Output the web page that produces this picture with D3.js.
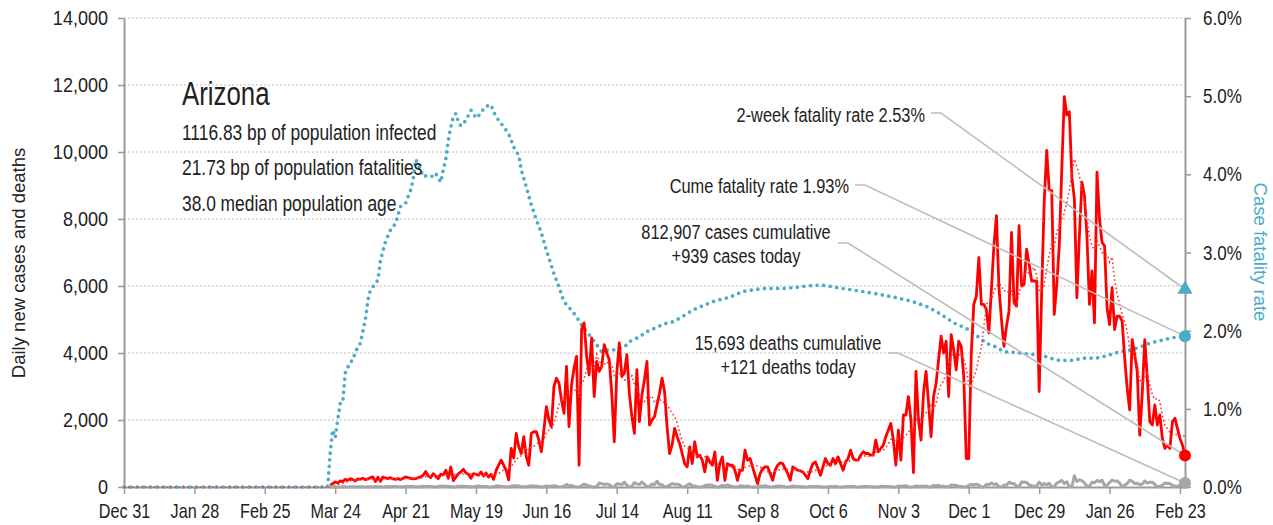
<!DOCTYPE html>
<html>
<head>
<meta charset="UTF-8">
<title>Arizona</title>
<script src="https://d3js.org/d3.v7.min.js"></script>
<style>
	body { margin: 0; background: #fff; }
	svg text { font-family: "Liberation Sans", Arial, sans-serif; fill: #222; }
</style>
</head>
<body>
<svg id="chart" width="1273" height="525"></svg>
<script type="text/javascript">
	// daily values, one per day starting at casesStart
	var casesStart = "2020-03-22";
	var dailyCases = [
		60, 100, 150, 120, 180, 160, 230,
		200, 250, 220, 180, 240, 230, 260,
		220, 240, 280, 300, 160, 290, 170,
		300, 270, 250, 280, 240, 230, 250,
		220, 260, 300, 280, 260, 240, 250,
		280, 300, 350, 460, 330, 280, 400,
		320, 250, 380, 360, 500, 260, 600,
		190, 300, 400, 450, 530, 420, 380,
		260, 400, 380, 350, 450, 330, 420,
		300, 380, 230, 500, 650, 800, 650,
		500, 210, 1150, 860, 1600, 1200, 1000,
		1500, 900, 650, 1600, 1650, 1650, 1400,
		1050, 1700, 2400, 2000, 1800, 3000, 3250,
		3100, 2600, 2200, 3600, 1800, 3050, 3550,
		3900, 650, 4700, 4900, 3900, 3350, 4450,
		2700, 3750, 3450, 3600, 4250, 4000, 3800,
		2800, 1350, 3400, 4300, 3300, 3400, 3950,
		2800, 2100, 1600, 3500, 1950, 2750, 3200,
		3750, 1850, 2000, 2100, 2450, 2800, 3250,
		2850, 1800, 1000, 1250, 1750, 1500, 1300,
		1000, 700, 600, 1200, 700, 1350, 900,
		950, 800, 450, 900, 750, 650, 1050,
		200, 700, 900, 200, 700, 650, 650,
		500, 200, 500, 500, 1100, 800, 850,
		600, 350, 100, 400, 550, 600, 600,
		400, 200, 500, 650, 720, 700, 550,
		400, 200, 600, 550, 500, 480, 450,
		350, 250, 500, 700, 750, 550, 350,
		600, 850, 700, 650, 850, 700, 900,
		700, 500, 750, 850, 1100, 850, 800,
		800, 950, 1050, 1000, 1000, 950, 950,
		1400, 1050, 1150, 1250, 1500, 1700, 1900,
		1400, 650, 1700, 800, 2150, 2150, 2700,
		2000, 430, 3450, 2000, 1400, 2800, 3450,
		2500, 1500, 2700, 3100, 3800, 4500, 4000,
		4350, 2700, 4550, 4100, 3500, 4350, 4200,
		3300, 850, 850, 4000, 5450, 5700, 6850,
		5450, 5450, 5300, 4600, 5900, 7200, 8100,
		5950, 5000, 4200, 4800, 5250, 7600, 5500,
		5400, 7800, 6000, 6050, 7100, 6650, 6150,
		6150, 6150, 2850, 5850, 8500, 10050, 8850,
		8850, 5150, 6050, 7200, 9500, 11650, 11100,
		11200, 9250, 8600, 5650, 7500, 9100, 8700,
		7500, 5450, 6450, 4900, 9400, 8000, 7300,
		7200, 5350, 4850, 5950, 4700, 5100, 5100,
		4950, 3850, 2950, 2300, 4400, 3950, 3450,
		1550, 2800, 4400, 3250, 1950, 1850, 2450,
		1850, 2150, 1450, 1150, 1250, 1150, 1950,
		2050, 1750, 1450, 1250, 939
	];
	var dailyDeaths = [
		0, 1, 2, 3, 2, 5, 5,
		3, 4, 5, 6, 9, 7, 6,
		2, 5, 9, 10, 12, 8, 5,
		2, 7, 12, 11, 16, 13, 9,
		4, 7, 14, 16, 18, 14, 11,
		5, 9, 20, 18, 22, 16, 11,
		4, 14, 30, 25, 25, 19, 15,
		3, 8, 22, 19, 24, 17, 13,
		2, 5, 24, 29, 22, 18, 16,
		3, 2, 12, 28, 30, 20, 17,
		3, 5, 25, 39, 35, 28, 15,
		8, 4, 25, 40, 32, 28, 17,
		2, 4, 30, 25, 30, 38, 27,
		3, 6, 24, 79, 34, 44, 18,
		8, 1, 44, 88, 50, 32, 2,
		1, 13, 117, 100, 75, 93, 69,
		4, 5, 97, 89, 71, 144, 52,
		3, 18, 134, 89, 79, 147, 80,
		14, 15, 92, 76, 172, 75, 68,
		4, 14, 54, 103, 80, 84, 62,
		3, 5, 57, 98, 41, 31, 11,
		2, 8, 44, 56, 57, 51, 14,
		0, 10, 52, 35, 61, 33, 16,
		0, 1, 30, 30, 17, 28, 10,
		0, 1, 6, 29, 13, 41, 12,
		2, 1, 19, 27, 27, 17, 7,
		1, 8, 30, 16, 14, 10, 6,
		0, 2, 18, 12, 12, 13, 9,
		1, 2, 6, 17, 8, 12, 4,
		0, 2, 12, 15, 13, 19, 5,
		1, 4, 14, 16, 12, 11, 8,
		2, 2, 19, 20, 15, 14, 8,
		0, 1, 27, 22, 30, 37, 10,
		1, 5, 33, 14, 25, 19, 29,
		1, 4, 48, 30, 52, 13, 27,
		7, 8, 61, 54, 48, 15, 18,
		10, 1, 48, 80, 62, 88, 58,
		1, 0, 80, 65, 116, 73, 99,
		3, 4, 56, 54, 143, 106, 104,
		31, 16, 151, 139, 145, 59, 38,
		14, 36, 148, 56, 104, 72, 111,
		3, 11, 117, 153, 197, 106, 154,
		4, 15, 335, 166, 215, 189, 121,
		22, 23, 144, 125, 196, 155, 202,
		52, 52, 134, 209, 172, 183, 114,
		13, 51, 103, 204, 169, 104, 114,
		72, 85, 180, 114, 143, 143, 77,
		0, 25, 52, 120, 102, 106, 50,
		28, 22, 44, 136, 121
	];

	// cumulative case fatality rate (%)
	var cfrDates = [
		"2019-12-31", "2020-03-21", "2020-03-22", "2020-03-23", "2020-03-24", "2020-03-25", "2020-03-26",
		"2020-03-27", "2020-03-28", "2020-03-30", "2020-03-31", "2020-04-01", "2020-04-03", "2020-04-05",
		"2020-04-06", "2020-04-07", "2020-04-09", "2020-04-10", "2020-04-11", "2020-04-13", "2020-04-15",
		"2020-04-17", "2020-04-19", "2020-04-21", "2020-04-23", "2020-04-24", "2020-04-25", "2020-04-26",
		"2020-04-28", "2020-04-30", "2020-05-02", "2020-05-03", "2020-05-05", "2020-05-06", "2020-05-07",
		"2020-05-08", "2020-05-09", "2020-05-10", "2020-05-11", "2020-05-12", "2020-05-13", "2020-05-15",
		"2020-05-17", "2020-05-18", "2020-05-19", "2020-05-21", "2020-05-22", "2020-05-23", "2020-05-25",
		"2020-05-26", "2020-05-28", "2020-05-30", "2020-06-01", "2020-06-03", "2020-06-04", "2020-06-05",
		"2020-06-06", "2020-06-08", "2020-06-10", "2020-06-12", "2020-06-14", "2020-06-16", "2020-06-19",
		"2020-06-21", "2020-06-23", "2020-06-26", "2020-06-28", "2020-06-30", "2020-07-03", "2020-07-06",
		"2020-07-08", "2020-07-10", "2020-07-12", "2020-07-15", "2020-07-17", "2020-07-19", "2020-07-23",
		"2020-07-26", "2020-07-29", "2020-08-02", "2020-08-05", "2020-08-08", "2020-08-13", "2020-08-15",
		"2020-08-21", "2020-08-28", "2020-09-02", "2020-09-10", "2020-09-18", "2020-09-25", "2020-09-30",
		"2020-10-04", "2020-10-10", "2020-10-16", "2020-10-24", "2020-11-01", "2020-11-08", "2020-11-15",
		"2020-11-20", "2020-11-25", "2020-11-30", "2020-12-04", "2020-12-08", "2020-12-12", "2020-12-15",
		"2020-12-20", "2020-12-25", "2020-12-30", "2021-01-02", "2021-01-06", "2021-01-11", "2021-01-16",
		"2021-01-21", "2021-01-26", "2021-01-30", "2021-02-03", "2021-02-07", "2021-02-11", "2021-02-16",
		"2021-02-20", "2021-02-25"
	];
	var cfrValues = [
		0, 0, 0.43, 0.73, 0.63, 0.86, 1.07,
		1.08, 1.46, 1.6, 1.62, 1.73, 1.84, 2.14,
		2.39, 2.52, 2.6, 2.65, 2.9, 3.14, 3.29,
		3.37, 3.59, 3.63, 3.8, 3.93, 4.19, 4.14,
		3.97, 3.99, 3.97, 4.01, 3.9, 4.06, 4.2,
		4.44, 4.61, 4.74, 4.78, 4.67, 4.62, 4.69,
		4.82, 4.78, 4.72, 4.78, 4.84, 4.87, 4.89,
		4.8, 4.69, 4.61, 4.52, 4.35, 4.29, 4.25,
		4.06, 3.84, 3.61, 3.42, 3.25, 3.03, 2.73,
		2.56, 2.37, 2.26, 2.18, 2.07, 1.95, 1.82,
		1.73, 1.75, 1.75, 1.77, 1.79, 1.86, 1.92,
		1.99, 2.03, 2.09, 2.11, 2.16, 2.26, 2.29,
		2.37, 2.43, 2.5, 2.54, 2.54, 2.56, 2.58,
		2.58, 2.55, 2.52, 2.48, 2.43, 2.38, 2.3,
		2.21, 2.1, 2.03, 1.94, 1.84, 1.79, 1.73,
		1.72, 1.7, 1.69, 1.65, 1.62, 1.62, 1.65,
		1.65, 1.69, 1.73, 1.75, 1.79, 1.84, 1.88,
		1.91, 1.93
	];

	var xTickDates = ["2019-12-31", "2020-01-28", "2020-02-25", "2020-03-24", "2020-04-21", "2020-05-19",
		"2020-06-16", "2020-07-14", "2020-08-11", "2020-09-08", "2020-10-06", "2020-11-03",
		"2020-12-01", "2020-12-29", "2021-01-26", "2021-02-23"];
	var yTicks = [0, 2000, 4000, 6000, 8000, 10000, 12000, 14000];
	var rateTicks = [0, 0.01, 0.02, 0.03, 0.04, 0.05, 0.06];
	var domainStart = "2019-12-31";
	var domainEnd = "2021-02-25";

	var stateName = "Arizona";
	var stateFacts = ["1116.83 bp of population infected", "21.73 bp of population fatalities", "38.0 median population age"];
	var cumCases = 812907, cumDeaths = 15693, todayCases = 939, todayDeaths = 121;
	var cumeRate = 0.0193, twoWeekRate = 0.0253;

	var red = "#ff0000", teal = "#4bacc6", gray = "#a6a6a6", axisGray = "#9a9a9a";

	var parse = d3.timeParse("%Y-%m-%d");
	var plotLeft = 124, plotRight = 1185, plotTop = 18, plotBottom = 487;

	var x = d3.scaleTime().domain([parse(domainStart), parse(domainEnd)]).range([plotLeft, plotRight]);
	var y = d3.scaleLinear().domain([0, 14000]).range([plotBottom, plotTop]);
	var yRate = d3.scaleLinear().domain([0, 0.06]).range([plotBottom, plotTop]);

	var start = parse(casesStart);
	var cases = dailyCases.map(function(v, i) { return { date: d3.timeDay.offset(start, i), value: v }; });
	var deaths = dailyDeaths.map(function(v, i) { return { date: d3.timeDay.offset(start, i), value: v }; });
	// trailing 7-day average, zero before the first reported day
	var avg = [{ date: parse(domainStart), value: 0 }, { date: d3.timeDay.offset(start, -1), value: 0 }]
		.concat(dailyCases.map(function(v, i) {
			return { date: d3.timeDay.offset(start, i), value: d3.sum(dailyCases.slice(Math.max(0, i - 6), i + 1)) / 7 };
		}));
	var cfr = cfrDates.map(function(d, i) { return { date: parse(d), value: cfrValues[i] / 100 }; });

	var svg = d3.select("#chart");

	// squeeze a text horizontally around its own x, so Liberation Sans looks condensed
	function condense(sel, k) {
		sel.each(function() {
			var t = d3.select(this);
			var x0 = +t.attr("x") || 0;
			t.attr("transform", "translate(" + x0 + ",0) scale(" + k + ",1) translate(" + (-x0) + ",0)");
		});
	}

	// grid
	svg.append("g").selectAll("line").data(yTicks.filter(function(d) { return d > 0; }))
		.enter().append("line")
		.attr("x1", plotLeft).attr("x2", plotRight)
		.attr("y1", function(d) { return y(d); }).attr("y2", function(d) { return y(d); })
		.attr("stroke", "#bcbcbc").attr("stroke-width", 1).attr("stroke-dasharray", "2,2");

	// axes
	var gx = svg.append("g").attr("transform", "translate(0," + plotBottom + ")")
		.call(d3.axisBottom(x).tickValues(xTickDates.map(parse)).tickFormat(d3.timeFormat("%b %-d"))
			.tickSize(7).tickSizeOuter(0).tickPadding(9));
	var gy = svg.append("g").attr("transform", "translate(" + plotLeft + ",0)")
		.call(d3.axisLeft(y).tickValues(yTicks).tickFormat(d3.format(",")).tickSize(6).tickSizeOuter(0).tickPadding(10));
	var gr = svg.append("g").attr("transform", "translate(" + plotRight + ",0)")
		.call(d3.axisRight(yRate).tickValues(rateTicks).tickFormat(d3.format(".1%")).tickSize(6).tickSizeOuter(0).tickPadding(12));

	[gx, gy, gr].forEach(function(g) {
		g.select(".domain").attr("stroke", axisGray).attr("stroke-width", 2);
		g.selectAll(".tick line").attr("stroke", axisGray).attr("stroke-width", 1.5);
		g.selectAll(".tick text").style("font-size", "20.5px").attr("fill", "#222");
	});
	gx.selectAll(".tick text").call(condense, 0.79);
	gy.selectAll(".tick text").call(condense, 0.88);
	gr.selectAll(".tick text").attr("fill", teal).call(condense, 0.83);

	svg.append("text")
		.attr("transform", "translate(25,263) rotate(-90)")
		.attr("text-anchor", "middle").style("font-size", "18.5px")
		.text("Daily new cases and deaths");
	svg.append("text")
		.attr("transform", "translate(1254,252) rotate(90)")
		.attr("text-anchor", "middle").style("font-size", "18.5px").style("fill", teal)
		.text("Case fatality rate");

	var line = function(scale) {
		return d3.line().x(function(d) { return x(d.date); }).y(function(d) { return scale(d.value); });
	};

	svg.append("path").datum(cfr).attr("d", line(yRate))
		.attr("fill", "none").attr("stroke", teal).attr("stroke-width", 3.7)
		.attr("stroke-linecap", "round").attr("stroke-dasharray", "0,6.6");
	svg.append("path").datum(cases).attr("d", line(y))
		.attr("fill", "none").attr("stroke", red).attr("stroke-width", 2.8).attr("stroke-linejoin", "round");
	svg.append("path").datum(avg).attr("d", line(y))
		.attr("fill", "none").attr("stroke", "#ff3333").attr("stroke-width", 1.6).attr("stroke-dasharray", "1.6,2.6");
	svg.append("path").datum(deaths).attr("d", line(y))
		.attr("fill", "none").attr("stroke", gray).attr("stroke-width", 3).attr("stroke-linejoin", "round");

	// title block
	svg.append("text").attr("x", 182).attr("y", 105).style("font-size", "34px").text(stateName).call(condense, 0.76);
	svg.selectAll("text.fact").data(stateFacts).enter().append("text").classed("fact", true)
		.attr("x", 182).attr("y", function(d, i) { return 140 + i * 35.3; })
		.style("font-size", "22px").text(function(d) { return d; }).call(condense, 0.79);

	// annotations: text, short flat leader, then a slanted line to the end marker
	var endX = x(parse(domainEnd));
	var fmtPct = d3.format(".2%");
	var notes = [
		{ lines: ["2-week fatality rate " + fmtPct(twoWeekRate)], tx: 925, anchor: "end", ty: 122, lx: 931, ly: 113, py: yRate(twoWeekRate) },
		{ lines: ["Cume fatality rate " + fmtPct(cumeRate)], tx: 849, anchor: "end", ty: 193, lx: 855, ly: 185, py: yRate(cumeRate) },
		{ lines: [d3.format(",")(cumCases) + " cases cumulative", "+" + todayCases + " cases today"], tx: 736, anchor: "middle", ty: 239, lx: 838, ly: 243, py: y(todayCases) },
		{ lines: [d3.format(",")(cumDeaths) + " deaths cumulative", "+" + todayDeaths + " deaths today"], tx: 788, anchor: "middle", ty: 350, lx: 888, ly: 353, py: y(todayDeaths) }
	];
	notes.forEach(function(n) {
		svg.append("polyline")
			.attr("points", [[n.lx, n.ly], [n.lx + 10, n.ly], [endX, n.py]].join(" "))
			.attr("fill", "none").attr("stroke", "#bdbdbd").attr("stroke-width", 1.6);
		n.lines.forEach(function(t, i) {
			svg.append("text").attr("x", n.tx).attr("y", n.ty + i * 24).attr("text-anchor", n.anchor)
				.style("font-size", "21px").text(t).call(condense, 0.78);
		});
	});

	// end markers
	svg.append("path").attr("d", d3.symbol(d3.symbolTriangle, 100)())
		.attr("transform", "translate(" + endX + "," + yRate(twoWeekRate) + ")").attr("fill", teal);
	[[yRate(cumeRate), teal], [y(todayCases), red], [y(todayDeaths), gray]].forEach(function(m) {
		svg.append("circle").attr("cx", endX).attr("cy", m[0]).attr("r", 6).attr("fill", m[1]);
	});
</script>
</body>
</html>
